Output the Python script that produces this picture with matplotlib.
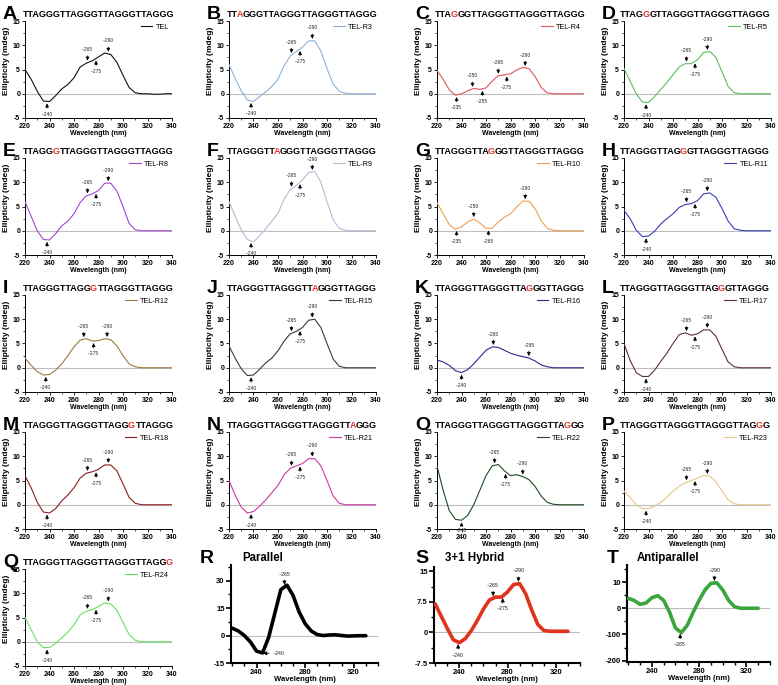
import numpy as np
import matplotlib.pyplot as plt
from matplotlib.ticker import MultipleLocator, AutoMinorLocator

plt.rcParams['font.family'] = ['Liberation Sans', 'DejaVu Sans']
plt.rcParams['axes.unicode_minus'] = False

W, H = 778, 685

# wavelength grids (nm)
wl = np.arange(220, 345, 5)
wl_ref = np.arange(220, 335, 5)

seq = 'TTAGGGTTAGGGTTAGGGTTAGGG'

# CD spectra of TEL and its mutants (mdeg), 220..340 nm every 5 nm
tel = [5, 3, 0.5, -1.5, -1.6, -0.4, 1, 1.9, 3.3, 5.5, 6.3, 6.8, 7.6, 8.4, 8.1, 6.5, 3.8, 1.3, 0.2, 0, 0, -0.1, -0.1, 0, 0]
r3 = [6, 3.2, 0.6, -1.3, -1.6, -0.6, 0.4, 1.5, 3, 5.8, 7.8, 8.7, 9.6, 10.9, 10.9, 8.8, 5.2, 2, 0.5, 0.1, 0, 0, 0, 0, 0]
r4 = [4.8, 3, 0.8, -0.3, 0, 0.6, 1.1, 0.9, 1.2, 2.6, 3.7, 3.9, 4.1, 4.9, 5.4, 5.2, 3.6, 1.3, 0.2, 0, 0, 0, 0, 0, 0]
r5 = [5.2, 2.6, 0, -1.7, -1.8, -0.6, 0.9, 2.3, 3.9, 5.5, 6.2, 6.2, 7, 8.5, 8.7, 7.5, 4.5, 1.5, 0.2, 0, 0, 0, 0, 0, 0]
r8 = [6, 3, 0, -1.8, -1.9, -0.6, 1, 2, 3.5, 5.8, 7.2, 7.6, 8.3, 9.8, 9.8, 8.2, 5, 1.5, 0.2, 0, 0, 0, 0, 0, 0]
r9 = [6, 3, 0.2, -1.8, -2.3, -1, 0.4, 2, 3.6, 6.5, 8.5, 9.3, 10.5, 12, 12.2, 10, 6, 2.3, 0.5, 0.1, 0, 0, 0, 0, 0]
r10 = [5.8, 3.5, 1.3, 0.3, 0.8, 1.8, 2.4, 1.6, 0.5, 0.5, 1.8, 2.8, 3.5, 4.9, 6.1, 6.1, 4.6, 2.1, 0.5, 0.1, 0, 0, 0, 0, 0]
r11 = [4.2, 2.5, 0.1, -1.2, -1.1, -0.1, 1.4, 2.5, 3.5, 4.8, 5.4, 5.6, 6.2, 7.6, 7.8, 6.9, 4.6, 2, 0.4, 0.1, 0, 0, 0, 0, 0]
r12 = [2, 0.5, -0.8, -1.5, -1.4, -0.5, 0.8, 2.5, 4.3, 5.7, 6, 5.5, 5.6, 6, 5.8, 4.5, 2.5, 0.8, 0.2, 0, 0, 0, 0, 0, 0]
r15 = [4.5, 2, -0.2, -1.6, -1.5, -0.3, 1, 2, 3.5, 5.5, 7, 7.5, 8.3, 9.8, 10, 8.3, 5, 1.8, 0.3, 0, 0, 0, 0, 0, 0]
r16 = [1.6, 1.2, 0.5, -0.6, -1, -0.4, 0.8, 2.2, 3.6, 4.3, 4.2, 3.6, 3, 2.6, 2.3, 2, 1.4, 0.6, 0.2, 0, 0, 0, 0, 0, 0]
r17 = [5, 1.5, -1, -1.8, -1.8, -0.5, 1.3, 3, 5, 6.8, 7.2, 6.7, 7, 7.8, 7.8, 6.5, 3.8, 1.2, 0.2, 0, 0, 0, 0, 0, 0]
r18 = [6, 3.5, 0.5, -1.5, -1.7, -0.8, 0.8, 2, 3.5, 5.5, 6.5, 6.8, 7.3, 8.2, 8.2, 7, 4.3, 1.5, 0.3, 0, 0, 0, 0, 0, 0]
r21 = [5, 2, -0.5, -1.7, -1.4, -0.3, 1, 2.5, 4, 6.2, 7.5, 8, 8.5, 9.5, 9.5, 8, 5, 1.8, 0.3, 0, 0, 0, 0, 0, 0]
r22 = [8, 3, -1.2, -3, -3.2, -2.2, 0, 3, 6, 8, 8.3, 7, 6, 6.2, 5.8, 5.2, 3.8, 1.8, 0.5, 0.1, 0, 0, 0, 0, 0]
r23 = [2.8, 1.5, 0, -0.8, -0.8, -0.3, 0.5, 1.5, 2.8, 3.8, 4.5, 5, 5.5, 6, 5.9, 4.8, 2.8, 1, 0.2, 0, 0, 0, 0, 0, 0]
r24 = [5, 2.5, 0, -1.2, -1.2, -0.3, 0.8, 2, 3.5, 5.5, 6.3, 6.6, 7.3, 8, 7.8, 6.5, 4, 1.5, 0.3, 0, 0, 0, 0, 0, 0]

# reference topologies, 220..330 nm
parallel = [4, 2.5, 0, -3.5, -8.5, -9.5, -1, 12, 25, 27.5, 22, 13, 6.5, 2.5, 0.5, 0, 0.3, 0.4, 0, -0.3, -0.2, -0.1, -0.1]
hybrid = [7, 4, 1, -1.8, -2.5, -1.5, 0.5, 3, 5.8, 8, 8.7, 8.7, 10, 11.8, 12, 9.5, 5.5, 2, 0.5, 0.3, 0.3, 0.3, 0.3]
antipar = [3.8, 3, 1.5, 2, 4, 4.8, 3, -1.5, -7.5, -9.3, -6.5, -1.5, 3, 7, 9.5, 9.7, 7, 3, 0.6, 0, 0, 0, 0]

STD = [('~240', 238, -1), ('~265', 271, 1), ('~275', 278, -1), ('~290', 288, 1)]

panels = [
    ('A', 'TEL', None, tel, '#111111', STD),
    ('B', 'TEL-R3', 2, r3, '#8fb0d8', STD),
    ('C', 'TEL-R4', 3, r4, '#e0575a', [('~235', 236, -1), ('~250', 249, 1), ('~255', 257, -1),
                                        ('~265', 270, 1), ('~275', 277, -1), ('~290', 292, 1)]),
    ('D', 'TEL-R5', 4, r5, '#5cc05c', STD),
    ('E', 'TEL-R8', 5, r8, '#a347d1', STD),
    ('F', 'TEL-R9', 8, r9, '#b9b9d9', STD),
    ('G', 'TEL-R10', 9, r10, '#f0a050', [('~235', 236, -1), ('~250', 250, 1), ('~265', 262, -1), ('~290', 292, 1)]),
    ('H', 'TEL-R11', 10, r11, '#3c3cb4', STD),
    ('I', 'TEL-R12', 11, r12, '#9a7b3c', [('~240', 237, -1), ('~265', 268, 1), ('~275', 276, -1), ('~290', 287, 1)]),
    ('J', 'TEL-R15', 14, r15, '#3a3a3a', STD),
    ('K', 'TEL-R16', 15, r16, '#2b2b8c', [('~240', 240, -1), ('~265', 266, 1), ('~295', 295, 1)]),
    ('L', 'TEL-R17', 16, r17, '#5a2d4d', STD),
    ('M', 'TEL-R18', 17, r18, '#8b1c1c', STD),
    ('N', 'TEL-R21', 20, r21, '#cc3aa0', STD),
    ('O', 'TEL-R22', 21, r22, '#1f4d1f', [('~240', 240, -1), ('~265', 267, 1), ('~275', 276, -1), ('~290', 290, 1)]),
    ('P', 'TEL-R23', 22, r23, '#e8c58a', STD),
    ('Q', 'TEL-R24', 23, r24, '#6be060', STD),
]

SEQ_KW = dict(fontsize=6.5, fontweight='bold', va='baseline')


def ink_right(s):
    # render s alone at x = 10 px and find where its ink ends
    f = plt.figure(figsize=(4, 0.4), dpi=100)
    f.text(0.025, 0.3, s, **SEQ_KW)
    f.canvas.draw()
    img = np.asarray(f.canvas.buffer_rgba())[:, :, :3]
    cols = np.where((img < 160).any(axis=(0, 2)))[0]
    plt.close(f)
    return cols.max() + 1 - 10


fig = plt.figure(figsize=(W / 100, H / 100), dpi=100)


def px_axes(left, top, width, height):
    return fig.add_axes([left / W, 1 - (top + height) / H, width / W, height / H])


def mark(ax, x, xs, ys, txt, d, fs=3.5, off=7.5):
    yc = np.interp(x, xs, ys)
    ax.annotate(txt, xy=(x, yc), xytext=(0, off * d), textcoords='offset points',
                ha='center', va='bottom' if d > 0 else 'top', fontsize=fs, color='#222222',
                arrowprops=dict(arrowstyle='-|>,head_length=0.6,head_width=0.3', lw=0.5,
                                color='black', shrinkA=0.5, shrinkB=1.5))


def seq_title(x_px, y_px, k):
    y = 1 - y_px / H
    if k is None:
        fig.text(x_px / W, y, seq, **SEQ_KW)
        return
    fig.text(x_px / W, y, seq[:k], **SEQ_KW)
    # each later piece: its first glyph ends where it would in the joined string
    xm = x_px + ink_right(seq[:k + 1]) - ink_right(seq[k])
    fig.text(xm / W, y, seq[k], color='#e8302a', **SEQ_KW)
    if k + 1 < len(seq):
        xs = x_px + ink_right(seq[:k + 2]) - ink_right(seq[k + 1])
        fig.text(xs / W, y, seq[k + 1:], **SEQ_KW)


col_left = [25, 229, 437, 624]

for i, (letter, name, k, ys, color, marks) in enumerate(panels):
    r, c = divmod(i, 4)
    top = 137 * r
    x0 = col_left[c]
    ax = px_axes(x0, top + 21, 147, 97)
    ax.axhline(0, color='#bdbdbd', lw=0.8, zorder=1)
    ax.plot(wl, ys, color=color, lw=0.8, label=name, zorder=3)
    ax.set_xlim(220, 340)
    ax.set_ylim(-5, 15)
    ax.xaxis.set_major_locator(MultipleLocator(20))
    ax.xaxis.set_minor_locator(MultipleLocator(10))
    ax.yaxis.set_major_locator(MultipleLocator(5))
    ax.yaxis.set_minor_locator(MultipleLocator(2.5))
    for s in ['top', 'right']:
        ax.spines[s].set_visible(False)
    for s in ['left', 'bottom']:
        ax.spines[s].set_linewidth(0.7)
    ax.tick_params(which='major', length=2.5, width=0.6, pad=1, labelsize=5)
    ax.tick_params(which='minor', length=1.5, width=0.5)
    for lab in ax.get_xticklabels() + ax.get_yticklabels():
        lab.set_fontweight('bold')
    ax.set_xlabel('Wavelength (nm)', fontsize=5, fontweight='bold', labelpad=0)
    ax.set_ylabel('Ellipticity (mdeg)', fontsize=6, fontweight='bold')
    ax.yaxis.set_label_coords(-0.105, 0.585)
    ax.legend(loc='upper right', frameon=False, fontsize=5.2, handlelength=1.6,
              handletextpad=0.5, borderaxespad=0.2, borderpad=0.2)
    for txt, x, d in marks:
        mark(ax, x, wl, ys, txt, d, off=(5.5 if letter == 'O' and txt == '~240' else 7.5))
    fig.text((x0 - 22) / W, 1 - (top + 19) / H, letter, fontsize=14, fontweight='bold', va='baseline')
    seq_title(x0 - 2 - (2 if c == 3 else 0), top + 17, k)

# reference topologies
refs = [
    ('R', 'Parallel', parallel, 'black', (231, 565, 147, 98), (-15, 38.5), [-15, 0, 15, 30],
     ['-15', '0', '15', '30'], 200, 242),
    ('S', '3+1 Hybrid', hybrid, '#e0321e', (434, 567, 146, 96), (-7.5, 16.1), [-7.5, 0, 7.5, 15],
     ['-7.5', '0', '7.5', '15'], 415, 445),
    ('T', 'Antiparallel', antipar, '#3aa53a', (627, 565, 143, 97), (-20.5, 16.5), [-20, -10, 0, 10],
     ['-200', '-100', '0', '10'], 607, 637),
]

for letter, title, ys, color, rect, ylim, yt, ytl, lx, tx in refs:
    ax = px_axes(*rect)
    ax.axhline(0, color='#bdbdbd', lw=0.8, zorder=1)
    ax.plot(wl_ref, ys, color=color, lw=2.6, solid_joinstyle='round', solid_capstyle='round', zorder=3)
    ax.set_xlim(219, 340)
    ax.set_ylim(*ylim)
    ax.xaxis.set_major_locator(MultipleLocator(40))
    ax.xaxis.set_minor_locator(MultipleLocator(10))
    ax.set_yticks(yt, ytl)
    ax.yaxis.set_minor_locator(AutoMinorLocator(2))
    for s in ['top', 'right']:
        ax.spines[s].set_visible(False)
    for s in ['left', 'bottom']:
        ax.spines[s].set_linewidth(1.5)
    ax.tick_params(which='major', length=3.5, width=1.2, pad=1, labelsize=5.5)
    ax.tick_params(which='minor', length=2, width=1)
    for lab in ax.get_xticklabels() + ax.get_yticklabels():
        lab.set_fontweight('bold')
    ax.set_xlabel('Wavelength (nm)', fontsize=5.5, fontweight='bold', labelpad=0)
    fig.text(lx / W, 1 - 563 / H, letter, fontsize=14, fontweight='bold', va='baseline')
    fig.text(tx / W, 1 - 558 / H, title, fontsize=8.3, fontweight='bold', va='center')
    if letter == 'R':
        mark(ax, 263, wl_ref, ys, '~265', 1, fs=3.8)
        ax.annotate('~240', xy=(243, -9.7), xytext=(9, 0), textcoords='offset points',
                    ha='left', va='center', fontsize=3.8, color='#222222',
                    arrowprops=dict(arrowstyle='-|>,head_length=0.6,head_width=0.3', lw=0.5,
                                    color='black', shrinkA=0.5, shrinkB=2))
    elif letter == 'S':
        for txt, x, d in [('~240', 239, -1), ('~265', 268, 1), ('~275', 276, -1), ('~290', 289, 1)]:
            mark(ax, x, wl_ref, ys, txt, d, fs=3.8)
    else:
        for txt, x, d in [('~265', 264, -1), ('~290', 293, 1)]:
            mark(ax, x, wl_ref, ys, txt, d, fs=3.8)

fig.savefig('out.png', dpi=100)
